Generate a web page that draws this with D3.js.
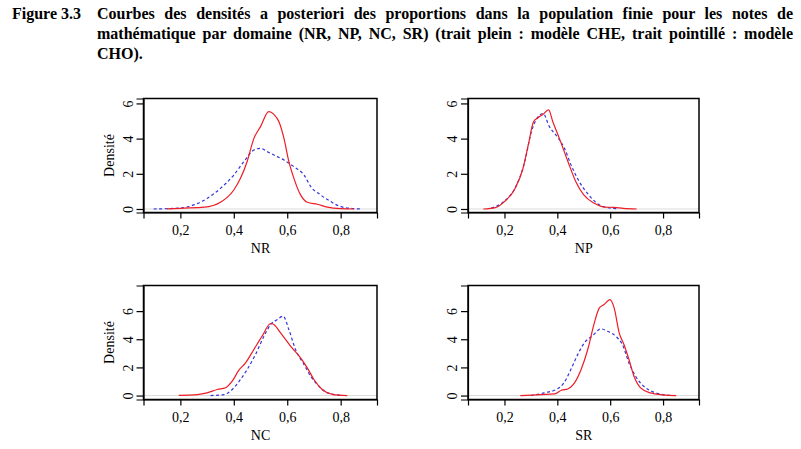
<!DOCTYPE html>
<html>
<head>
<meta charset="utf-8">
<script src="https://cdn.jsdelivr.net/npm/d3@7"></script>
<style>
  body { margin: 0; background: #fff; }
  #wrap { position: relative; width: 801px; height: 449px; }
  #title { position: absolute; left: 12px; top: 4px; width: 781px;
           font: bold 16px "Liberation Serif", "Times New Roman", serif; line-height: 20px; color: #000; }
  #title .num { position: absolute; left: 0; top: 0; }
  #title .txt { position: absolute; left: 85px; top: 0; width: 696px; }
  #title .j { text-align: justify; text-align-last: justify; }
  svg { position: absolute; left: 0; top: 0; }
  svg text { font-family: "Liberation Serif", "Times New Roman", serif; }
</style>
</head>
<body>
<div id="wrap">
  <div id="title">
    <div class="num">Figure 3.3</div>
    <div class="txt">
      <div class="j">Courbes des densités a posteriori des proportions dans la population finie pour les notes de</div>
      <div class="j">mathématique par domaine (NR, NP, NC, SR) (trait plein : modèle CHE, trait pointillé : modèle</div>
      <div>CHO).</div>
    </div>
  </div>
  <svg id="chart" width="801" height="449"></svg>
</div>
<script>
// density curves, [proportion, density]
// CHE = trait plein (red), CHO = trait pointillé (blue)
const nrChe = [[0.15,0],[0.2,0.04],[0.29,0.1],[0.35,0.38],[0.4,1.08],[0.425,1.74],[0.45,2.7],[0.475,4.0],[0.5,4.68],
  [0.531,5.53],[0.55,5.38],[0.569,4.96],[0.588,4.0],[0.606,2.7],[0.625,1.74],[0.65,0.8],[0.675,0.38],[0.713,0.27],
  [0.75,0.11],[0.8,0.02],[0.85,0]];
const nrCho = [[0.1,0],[0.2,0.06],[0.25,0.23],[0.3,0.6],[0.35,1.17],[0.4,1.93],[0.438,2.7],[0.475,3.35],[0.5,3.45],
  [0.525,3.26],[0.55,3.07],[0.588,2.78],[0.625,2.4],[0.663,1.93],[0.688,1.27],[0.725,0.8],[0.763,0.42],[0.8,0.13],
  [0.85,0.02],[0.875,0]];
const npChe = [[0.12,0],[0.165,0.08],[0.2,0.42],[0.24,1.17],[0.27,2.3],[0.29,3.64],[0.31,4.96],[0.327,5.19],[0.346,5.38],
  [0.367,5.63],[0.383,4.96],[0.408,4.0],[0.44,2.7],[0.47,1.55],[0.5,0.8],[0.54,0.32],[0.577,0.11],[0.614,0.09],
  [0.65,0.04],[0.7,0]];
const npCho = [[0.15,0.05],[0.2,0.45],[0.24,1.17],[0.277,2.7],[0.302,4.4],[0.321,5.1],[0.346,5.43],[0.37,4.68],[0.4,4.1],
  [0.427,3.45],[0.452,2.5],[0.483,1.55],[0.514,0.89],[0.55,0.32],[0.59,0.08],[0.626,0.02]];
const ncChe = [[0.194,0.02],[0.263,0.07],[0.3,0.19],[0.338,0.43],[0.369,0.55],[0.394,1.02],[0.419,1.8],[0.444,2.32],
  [0.475,3.27],[0.506,4.22],[0.538,5.12],[0.55,5.05],[0.575,4.45],[0.613,3.5],[0.65,2.68],[0.675,1.97],[0.7,1.14],
  [0.731,0.43],[0.769,0.09],[0.825,0]];
const ncCho = [[0.313,0],[0.363,0.07],[0.4,0.55],[0.425,1.14],[0.45,1.85],[0.481,2.91],[0.513,4.22],[0.538,5.05],
  [0.563,5.4],[0.585,5.64],[0.606,4.69],[0.631,3.27],[0.663,2.2],[0.688,1.37],[0.713,0.78],[0.75,0.19],[0.8,0.02]];
const srChe = [[0.26,0],[0.34,0.07],[0.39,0.12],[0.415,0.38],[0.44,0.47],[0.465,0.9],[0.49,1.85],[0.515,3.27],[0.54,5.17],
  [0.559,6.23],[0.577,6.47],[0.599,6.82],[0.615,6.23],[0.634,4.45],[0.652,3.63],[0.671,2.56],[0.69,1.37],[0.715,0.55],
  [0.752,0.19],[0.8,0.05],[0.85,0]];
const srCho = [[0.3,0],[0.35,0.19],[0.4,0.47],[0.425,0.9],[0.45,1.8],[0.477,2.91],[0.502,3.74],[0.534,4.27],[0.565,4.74],
  [0.59,4.57],[0.621,4.22],[0.646,3.63],[0.671,2.32],[0.696,1.37],[0.727,0.66],[0.765,0.24],[0.8,0.07],[0.84,0]];

const domains = ["NR", "NP", "NC", "SR"];
const xTicks = [0.2, 0.4, 0.6, 0.8];
const yTicks = [0, 2, 4, 6];
const yLimTop = [6.28, 6.28, 7.82, 7.82];

const panels = [
  {name: "NR", che: nrChe, cho: nrCho, x0: 143.5, x1: 377, y0: 98.5, y1: 212.5, ylab: true},
  {name: "NP", che: npChe, cho: npCho, x0: 468, x1: 699, y0: 98.5, y1: 212.5, ylab: false},
  {name: "NC", che: ncChe, cho: ncCho, x0: 143.5, x1: 377, y0: 285.5, y1: 399.5, ylab: true},
  {name: "SR", che: srChe, cho: srCho, x0: 468, x1: 699, y0: 285.5, y1: 399.5, ylab: false}
];

const svg = d3.select("#chart");
const fmt = d => d3.format(".1f")(d).replace(".", ",");

panels.forEach((p, i) => {
  const x = d3.scaleLinear().domain([0.062, 0.936]).range([p.x0, p.x1]);
  const yBottom = i < 2 ? -0.2 : -0.28;
  const y = d3.scaleLinear().domain([yBottom, yLimTop[i]]).range([p.y1, p.y0]);
  const g = svg.append("g");

  // zero line
  g.append("line")
    .attr("x1", p.x0).attr("x2", p.x1)
    .attr("y1", y(0)).attr("y2", y(0))
    .attr("stroke", "#dcdcdc").attr("stroke-width", 1);

  const line = d3.line()
    .x(d => x(d[0]))
    .y(d => y(d[1]))
    .curve(d3.curveMonotoneX);

  g.append("path")
    .datum(p.cho)
    .attr("d", line)
    .attr("fill", "none")
    .attr("stroke", "#3434d8")
    .attr("stroke-width", 1.2)
    .attr("stroke-dasharray", "3,2.5");

  g.append("path")
    .datum(p.che)
    .attr("d", line)
    .attr("fill", "none")
    .attr("stroke", "#ee1c24")
    .attr("stroke-width", 1.2);

  // box
  g.append("rect")
    .attr("x", p.x0).attr("y", p.y0)
    .attr("width", p.x1 - p.x0).attr("height", p.y1 - p.y0)
    .attr("fill", "none").attr("stroke", "#000").attr("stroke-width", 1.5);

  // X axis
  const xa = g.append("g")
    .attr("transform", `translate(0,${p.y1})`)
    .call(d3.axisBottom(x).tickValues(xTicks).tickFormat(fmt).tickSize(6).tickPadding(4));
  xa.select(".domain").attr("stroke-width", 1.2);
  xa.selectAll(".tick line").attr("stroke-width", 1.2);
  xa.selectAll("text").attr("font-size", 14).attr("font-family", "Liberation Serif").attr("dy", "0.9em");

  g.append("text")
    .attr("x", (x(0.2) + x(0.8)) / 2)
    .attr("y", p.y1 + 40)
    .attr("text-anchor", "middle")
    .attr("font-size", 14)
    .text(p.name);

  // Y axis
  const ya = g.append("g")
    .attr("transform", `translate(${p.x0},0)`)
    .call(d3.axisLeft(y).tickValues(yTicks).tickSize(7).tickFormat(d3.format("d")));
  ya.select(".domain").attr("stroke-width", 1.2);
  ya.selectAll(".tick line").attr("stroke-width", 1.2);
  ya.selectAll(".tick text")
    .attr("font-size", 14)
    .attr("font-family", "Liberation Serif")
    .attr("x", null).attr("dy", null)
    .attr("text-anchor", "middle")
    .attr("transform", "translate(-10,0) rotate(-90)")
    .attr("y", -1);

  if (p.ylab) {
    g.append("text")
      .attr("transform", `translate(${p.x0 - 30},${(p.y0 + p.y1) / 2}) rotate(-90)`)
      .attr("text-anchor", "middle")
      .attr("font-size", 14)
      .text("Densité");
  }
});
</script>
</body>
</html>
